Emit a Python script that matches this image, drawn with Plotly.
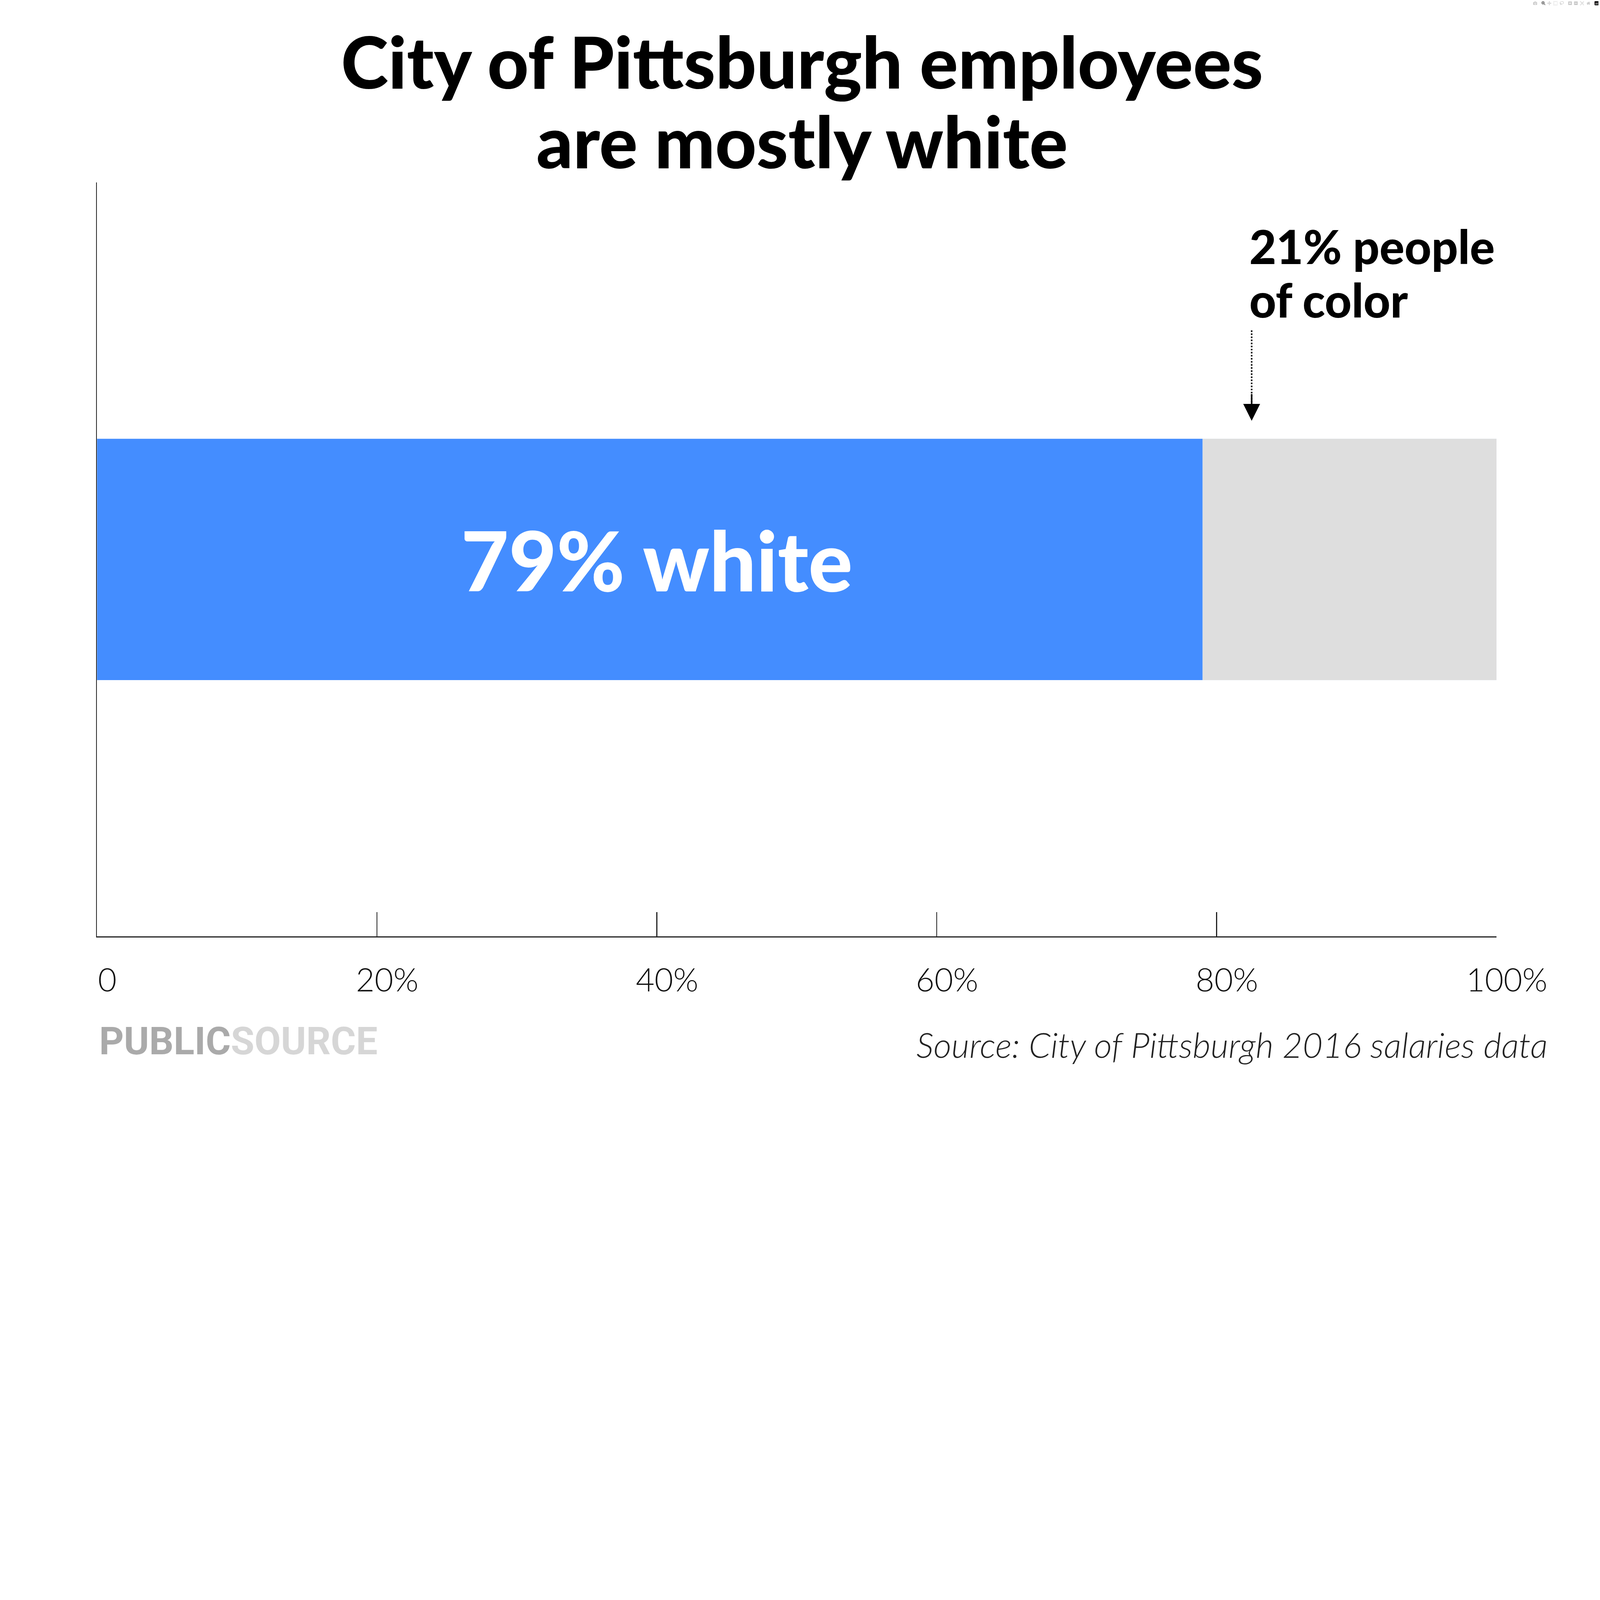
import plotly.graph_objects as go

categories = ["employees"]
white_pct = [79]
poc_pct = [21]
tick_vals = [0, 20, 40, 60, 80, 100]
tick_text = ["0", "20%", "40%", "60%", "80%", "100%"]

W, H = 6250, 4167
L, R, T, B = 379, 404, 713, 509
PW, PH = W - L - R, H - T - B

def px(x):
    return (x - L) / PW

def py(y):
    return (H - y - B) / PH

fig = go.Figure()
fig.add_trace(go.Bar(y=[0], x=white_pct, orientation="h", marker_color="#448dff",
                     width=0.32, hoverinfo="skip"))
fig.add_trace(go.Bar(y=[0], x=poc_pct, orientation="h", marker_color="#dedede",
                     width=0.32, hoverinfo="skip"))

fig.update_layout(
    width=W, height=H, autosize=False, barmode="stack", showlegend=False,
    plot_bgcolor="white", paper_bgcolor="white",
    margin=dict(l=L, r=R, t=T, b=B),
    xaxis=dict(range=[0, 100], tickvals=tick_vals, ticktext=tick_text,
               showgrid=False, zeroline=False, showline=True, linecolor="#222",
               linewidth=4, ticks="inside", ticklen=95, tickwidth=4, tickcolor="#222",
               tickfont=dict(family="Lato", size=126, color="#111", weight=300),
               ticklabelshift=40, ticklabelstandoff=60),
    yaxis=dict(range=[-0.5, 0.5], showticklabels=False, showgrid=False, zeroline=False,
               showline=True, linecolor="#222", linewidth=4),
)

title_font = dict(family="Lato", size=280, color="#000", weight=900)
fig.add_annotation(x=px(3133), y=py(238), xref="paper", yref="paper", yanchor="middle",
                   text="City of Pittsburgh employees", showarrow=False, font=title_font)
fig.add_annotation(x=px(3133), y=py(550), xref="paper", yref="paper", yanchor="middle",
                   text="are mostly white", showarrow=False, font=title_font)

fig.add_annotation(x=white_pct[0] / 2 + 0.5, y=0, text="79% white", showarrow=False,
                   font=dict(family="Lato", size=322, color="white", weight=900))

label_font = dict(family="Lato", size=182, color="#000", weight=900)
fig.add_annotation(x=82.3, xanchor="left", y=0.416, yanchor="middle",
                   text="21% people", showarrow=False, font=label_font)
fig.add_annotation(x=82.3, xanchor="left", y=0.345, yanchor="middle",
                   text="of color", showarrow=False, font=label_font)
fig.add_shape(type="line", x0=82.5, x1=82.5, y0=0.20, y1=0.304, xref="x", yref="y",
              line=dict(color="#000", width=6, dash="dot"))
fig.add_annotation(x=82.5, y=0.184, ax=82.5, ay=0.22, xref="x", yref="y", axref="x", ayref="y",
                   text="", showarrow=True, arrowhead=2, arrowsize=2.2, arrowwidth=6,
                   arrowcolor="#000")

fig.add_annotation(x=px(385), y=py(4068), xref="paper", yref="paper", xanchor="left",
                   yanchor="middle", showarrow=False,
                   text="<span style='color:#aaaaaa'>PUBLIC</span><span style='color:#d6d6d6'>SOURCE</span>",
                   font=dict(family="Roboto", size=150, weight=700))
fig.add_annotation(x=px(6048), y=py(4080), xref="paper", yref="paper", xanchor="right",
                   yanchor="middle", showarrow=False,
                   text="<i>Source: City of Pittsburgh 2016 salaries data</i>",
                   font=dict(family="Lato", size=136, color="#222", weight=300))

fit_js = """
document.body.style.margin='0';
var s = Math.min(window.innerWidth / 6250, window.innerHeight / 4167);
if (s < 1) { document.body.style.zoom = s; }
"""
fig.write_html("out.html", post_script=fit_js)
